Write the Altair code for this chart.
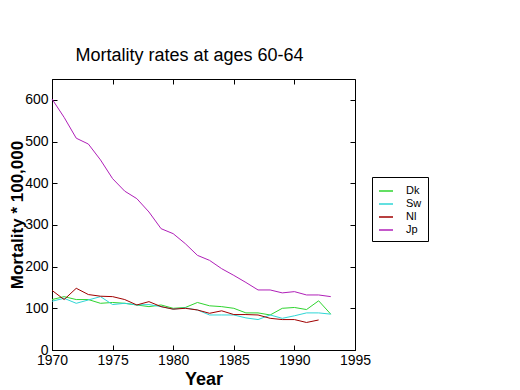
import altair as alt
import pandas as pd

years = list(range(1970, 1994))
dk = [121, 128, 121, 121, 112, 114, 112, 108, 104, 108, 100, 102, 114, 106, 104, 100, 89, 89, 84, 100, 102, 97, 118, 86]
sw = [117, 124, 112, 120, 128, 109, 112, 108, 109, 104, 98, 101, 96, 84, 84, 84, 77, 73, 84, 76, 82, 89, 89, 86]
nl = [143, 121, 148, 133, 129, 128, 121, 108, 116, 104, 98, 100, 96, 88, 94, 85, 85, 84, 76, 73, 73, 66, 72]
jp = [602, 558, 508, 494, 456, 411, 381, 363, 331, 291, 279, 255, 227, 215, 195, 179, 162, 144, 144, 137, 140, 132, 132, 128]

series = ["Dk", "Sw", "Nl", "Jp"]
colors = ["#2fd42f", "#2fd6d6", "#a00000", "#b020b8"]

rows = []
for name, vals in zip(series, [dk, sw, nl, jp]):
    for yr, v in zip(years, vals):
        rows.append({"Year": yr, "Value": v, "Country": name})
df = pd.DataFrame(rows)

xs = alt.Scale(domain=[1970, 1995], nice=False, zero=False)
ys = alt.Scale(domain=[0, 650], nice=False)
xticks = [1970, 1975, 1980, 1985, 1990, 1995]
yticks = [0, 100, 200, 300, 400, 500, 600]

base = alt.Chart(df)

lines = base.mark_line(strokeWidth=1).encode(
    x=alt.X("Year:Q", scale=xs, axis=alt.Axis(values=xticks, format="d", ticks=False,
            labelPadding=3, labelFontSize=14, title="Year", titleFontSize=18,
            titleFontWeight="bold", titlePadding=3, labelFlush=False, grid=False,
            domainColor="black", labelColor="black", titleColor="black")),
    y=alt.Y("Value:Q", scale=ys, axis=alt.Axis(values=yticks, ticks=False,
            labelPadding=4, labelFontSize=14, title="Mortality * 100,000",
            titleFontSize=17, titleFontWeight="bold", titlePadding=-2, grid=False,
            domainColor="black", labelColor="black", titleColor="black")),
    color=alt.Color("Country:N", scale=alt.Scale(domain=series, range=colors),
                    sort=series,
                    legend=alt.Legend(title=None, orient="none", legendX=320, legendY=98,
                                      symbolType="stroke", symbolSize=196, symbolStrokeWidth=1.5,
                                      labelFontSize=11, labelOffset=12, padding=6,
                                      rowPadding=0, strokeColor="black", fillColor="white",
                                      labelColor="black")),
)

def tick_layer(xaxis, yaxis):
    return base.mark_point(opacity=0).encode(
        x=alt.X("Year:Q", scale=xs, axis=xaxis),
        y=alt.Y("Value:Q", scale=ys, axis=yaxis),
    )

tick_common = dict(labels=False, domain=False, title=None, grid=False,
                   tickSize=5, offset=-5, tickColor="black")
bottom_t = tick_layer(alt.Axis(orient="bottom", values=xticks, **tick_common), None)
top_t = tick_layer(alt.Axis(orient="top", values=xticks, **tick_common), None)
left_t = tick_layer(None, alt.Axis(orient="left", values=yticks, **tick_common))
right_t = tick_layer(None, alt.Axis(orient="right", values=yticks, **tick_common))

chart = alt.layer(lines, bottom_t, top_t, left_t, right_t).resolve_axis(
    x="independent", y="independent"
).properties(
    width=303, height=271,
    title=alt.TitleParams("Mortality rates at ages 60-64", fontSize=18, fontWeight="normal",
                          dx=-14, offset=14, color="black"),
    autosize=alt.AutoSizeParams(type="none"),
    padding={"left": 44, "top": 71, "right": 150, "bottom": 40},
).configure(font="Liberation Sans").configure_view(stroke="black", strokeWidth=1)

chart.save("out.html", embed_options={"renderer": "svg", "actions": False})
